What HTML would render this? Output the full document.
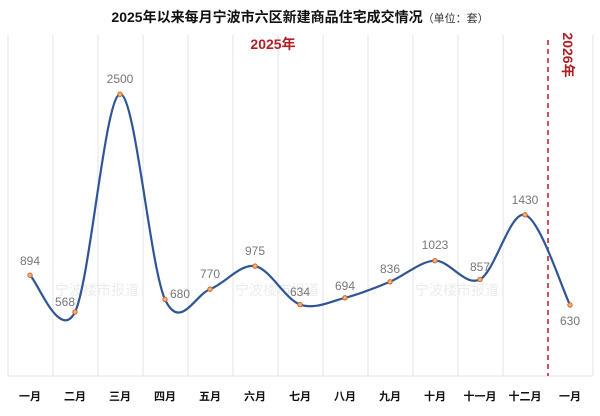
<!DOCTYPE html>
<html><head><meta charset="utf-8"><style>
body{margin:0;background:#fff;}
svg text{font-family:"Liberation Sans","Noto Sans CJK SC",sans-serif;}
</style></head><body>
<svg width="600" height="411" viewBox="0 0 600 411" xmlns="http://www.w3.org/2000/svg">
<rect width="600" height="411" fill="#fff"/>
<text x="300" y="22" text-anchor="middle" font-size="14" font-weight="bold" fill="#111">2025年以来每月宁波市六区新建商品住宅成交情况<tspan font-size="11" font-weight="normal" fill="#333">（单位：套）</tspan></text>
<g stroke="#e3e3e3" stroke-width="1">
<line x1="8" y1="35" x2="8" y2="376"/><line x1="53" y1="35" x2="53" y2="376"/><line x1="98" y1="35" x2="98" y2="376"/><line x1="143" y1="35" x2="143" y2="376"/><line x1="188" y1="35" x2="188" y2="376"/><line x1="233" y1="35" x2="233" y2="376"/><line x1="278" y1="35" x2="278" y2="376"/><line x1="323" y1="35" x2="323" y2="376"/><line x1="368" y1="35" x2="368" y2="376"/><line x1="413" y1="35" x2="413" y2="376"/><line x1="458" y1="35" x2="458" y2="376"/><line x1="503" y1="35" x2="503" y2="376"/><line x1="593" y1="35" x2="593" y2="376"/>
<line x1="8" y1="376" x2="593" y2="376"/>
</g>
<g font-size="14" fill="#000" fill-opacity="0.08">
<text x="55" y="295">宁波楼市报道</text><text x="235" y="295">宁波楼市报道</text><text x="415" y="295">宁波楼市报道</text>
</g>
<text x="273" y="49" text-anchor="middle" font-size="14" font-weight="bold" fill="#b01f24">2025年</text>
<line x1="548" y1="40" x2="548" y2="376" stroke="#c0282d" stroke-width="1.6" stroke-dasharray="5,4"/>
<text transform="translate(563,55) rotate(90)" text-anchor="middle" font-size="14" font-weight="bold" fill="#b01f24">2026年</text>
<path fill="none" stroke="#2f5597" stroke-width="2.2" d="M30,275.25 C37.5,281.37 60,342.16 75,311.99 C90,281.82 105,96.35 120,94.25 C135,92.15 150,266.86 165,299.36 C180,331.86 195,294.76 210,289.22 C225,283.68 240,263.57 255,266.12 C270,268.68 285,299.27 300,304.55 C315,309.83 330,301.58 345,297.79 C360,294 375,287.96 390,281.78 C405,275.6 420,261.1 435,260.71 C450,260.32 465,287.07 480,279.42 C495,271.77 510,210.58 525,214.84 C540,219.1 562.5,289.97 570,305"/>
<g fill="#f4b183" stroke="#d0671f" stroke-width="1">
<circle cx="30" cy="275.25" r="2.2"/><circle cx="75" cy="311.99" r="2.2"/><circle cx="120" cy="94.25" r="2.2"/><circle cx="165" cy="299.36" r="2.2"/><circle cx="210" cy="289.22" r="2.2"/><circle cx="255" cy="266.12" r="2.2"/><circle cx="300" cy="304.55" r="2.2"/><circle cx="345" cy="297.79" r="2.2"/><circle cx="390" cy="281.78" r="2.2"/><circle cx="435" cy="260.71" r="2.2"/><circle cx="480" cy="279.42" r="2.2"/><circle cx="525" cy="214.84" r="2.2"/><circle cx="570" cy="305" r="2.2"/>
</g>
<g font-size="12" fill="#777" text-anchor="middle">
<text x="30" y="265">894</text><text x="65" y="306">568</text><text x="120" y="83">2500</text><text x="180" y="298">680</text><text x="210" y="278">770</text><text x="255" y="255">975</text><text x="300" y="296">634</text><text x="345" y="290">694</text><text x="390" y="273">836</text><text x="435" y="249">1023</text><text x="480" y="271">857</text><text x="525" y="204">1430</text><text x="570" y="325">630</text>
</g>
<g font-size="11" font-weight="bold" fill="#111" text-anchor="middle">
<text x="30" y="400">一月</text><text x="75" y="400">二月</text><text x="120" y="400">三月</text><text x="165" y="400">四月</text><text x="210" y="400">五月</text><text x="255" y="400">六月</text><text x="300" y="400">七月</text><text x="345" y="400">八月</text><text x="390" y="400">九月</text><text x="435" y="400">十月</text><text x="480" y="400">十一月</text><text x="525" y="400">十二月</text><text x="570" y="400">一月</text>
</g>
</svg>
</body></html>
